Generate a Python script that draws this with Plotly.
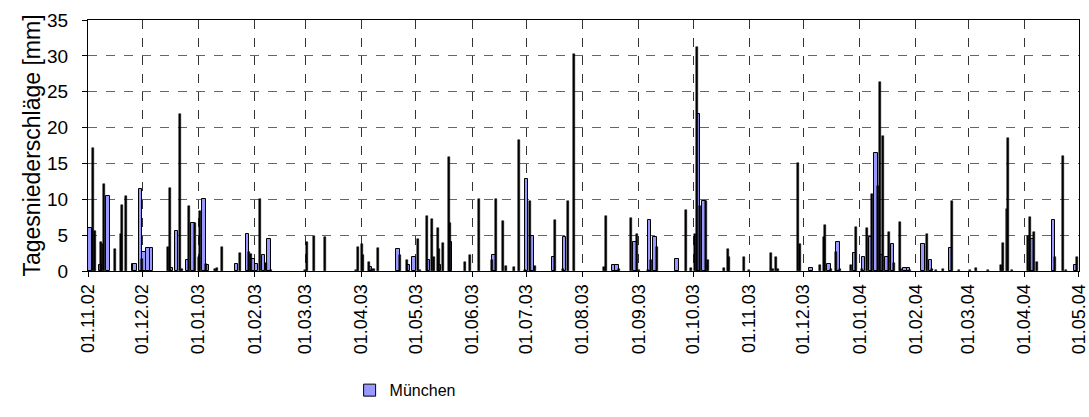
import pandas as pd
import plotly.graph_objects as go

# Daily precipitation [mm]; days counted from 01.11.2002
START = "2002-11-01"

muenchen_day = [1, 7, 11, 25, 26, 29, 31, 33, 35, 46, 49, 55, 58, 64, 66,
                82, 88, 91, 93, 97, 100, 156, 171, 177, 180, 188, 194, 200,
                224, 242, 245, 257, 263, 290, 292, 302, 310, 313, 325, 337,
                340, 399, 409, 414, 423, 428, 432, 435, 438, 441, 444, 451,
                453, 461, 465, 476, 521, 533, 545]
muenchen_mm = [6.0, 0.8, 10.4, 1.0, 1.0, 11.4, 2.6, 3.2, 3.2, 0.4, 5.6, 1.6,
               6.7, 10.1, 0.8, 1.0, 5.2, 1.7, 1.0, 2.3, 4.5, 0.5, 3.0, 0.8,
               1.9, 1.6, 0.8, 4.1, 2.2, 12.8, 4.9, 1.9, 4.8, 0.9, 0.9, 4.1,
               7.1, 4.8, 1.7, 21.9, 9.8, 0.4, 1.0, 4.1, 2.5, 1.9, 4.7, 16.5,
               2.2, 1.9, 3.8, 0.4, 0.4, 3.8, 1.6, 3.2, 4.5, 7.1, 0.8]

other_day = [3, 4, 7, 8, 9, 15, 18, 19, 21, 30, 44, 45, 51, 52, 56, 59, 61,
             62, 65, 70, 71, 74, 84, 89, 90, 95, 98, 101, 120, 121, 125, 131,
             148, 149, 151, 152, 155, 157, 158, 160, 172, 176, 182, 183, 187,
             190, 191, 193, 194, 196, 199, 200, 208, 211, 216, 223, 225, 229,
             231, 235, 238, 241, 244, 247, 258, 262, 265, 268, 285, 286, 293,
             300, 303, 304, 309, 311, 314, 330, 333, 335, 336, 338, 341, 342,
             351, 353, 354, 362, 365, 377, 378, 380, 381, 392, 393, 404, 406,
             407, 410, 413, 415, 421, 424, 427, 430, 433, 436, 437, 439, 442,
             445, 448, 449, 454, 463, 466, 468, 472, 477, 481, 487, 490, 497,
             504, 505, 507, 508, 510, 519, 520, 522, 524, 534, 538, 540, 546]
other_mm = [17.2, 5.6, 4.1, 3.8, 12.1, 3.0, 5.2, 9.2, 10.4, 1.7, 3.4, 11.6,
            21.9, 0.3, 9.0, 6.7, 1.9, 8.4, 1.0, 0.3, 0.4, 3.4, 2.5, 2.6, 2.4,
            10.0, 1.1, 0.2, 0.2, 4.1, 4.9, 4.7, 0.2, 3.4, 3.8, 2.3, 1.2, 0.3,
            0.3, 3.2, 2.3, 1.6, 4.5, 0.2, 7.7, 7.2, 1.9, 6.0, 3.0, 3.9, 15.9,
            6.7, 1.2, 2.2, 10.1, 1.6, 10.1, 7.0, 0.7, 0.5, 18.2, 0.2, 9.8, 0.7,
            7.1, 0.3, 9.7, 30.2, 0.5, 7.7, 0.3, 7.4, 5.2, 0.2, 0.2, 1.6, 3.4,
            8.5, 0.4, 5.1, 31.3, 9.0, 9.8, 1.6, 0.4, 3.0, 1.9, 1.9, 0.2, 2.5,
            0.3, 1.9, 0.3, 15.1, 3.8, 0.8, 4.7, 6.4, 0.3, 2.7, 0.3, 0.9, 6.1,
            0.3, 6.0, 10.8, 11.9, 26.4, 18.8, 5.4, 1.1, 6.8, 0.3, 0.2, 5.2, 0.3,
            0.2, 0.3, 9.7, 0.2, 0.2, 0.4, 0.2, 0.8, 3.9, 8.6, 18.6, 0.2, 4.9,
            7.5, 5.5, 1.2, 1.9, 16.1, 0.2, 1.9]

tick_dates = pd.date_range("2002-11-01", "2004-05-01", freq="MS")
tick_labels = [d.strftime("%d.%m.%y") for d in tick_dates]

DAY_MS = 86400000
FONT = "Liberation Sans, Arial, sans-serif"


def to_dates(days):
    return pd.Timestamp(START) + pd.to_timedelta(days, unit="D")


fig = go.Figure()
fig.add_trace(go.Bar(
    x=to_dates(muenchen_day),
    y=muenchen_mm,
    name="München",
    width=1.9 * DAY_MS,
    marker=dict(color="#9999FF", line=dict(color="black", width=1)),
))
fig.add_trace(go.Bar(
    x=to_dates(other_day),
    y=other_mm,
    name="",
    width=1.1 * DAY_MS,
    marker=dict(color="black", line=dict(color="black", width=0.5)),
    showlegend=False,
))

fig.update_layout(
    width=1089,
    height=417,
    margin=dict(l=88, r=10, t=20, b=143),
    plot_bgcolor="white",
    paper_bgcolor="white",
    barmode="overlay",
    bargap=0,
    font=dict(family=FONT, size=18, color="black"),
    xaxis=dict(
        type="date",
        range=[pd.Timestamp("2002-11-01"), pd.Timestamp("2004-05-01 00:30")],
        tickvals=tick_dates,
        ticktext=tick_labels,
        tickangle=-90,
        ticks="outside",
        ticklen=5,
        tickcolor="black",
        ticklabeloverflow="allow",
        showgrid=True,
        gridcolor="#333333",
        griddash="dash",
        gridwidth=1,
        showline=True,
        linecolor="black",
        linewidth=1,
        mirror=True,
        automargin=False,
        tickfont=dict(size=18),
    ),
    yaxis=dict(
        range=[0, 35],
        dtick=5,
        ticks="outside",
        ticklen=5,
        tickcolor="black",
        ticklabelstandoff=10,
        showgrid=True,
        gridcolor="#666666",
        griddash="dash",
        gridwidth=1,
        showline=True,
        linecolor="black",
        linewidth=1,
        mirror=True,
        zeroline=False,
        automargin=False,
        title=dict(text="Tagesniederschläge [mm]", font=dict(size=23), standoff=0),
        tickfont=dict(size=19),
    ),
    legend=dict(
        orientation="h",
        x=0.264,
        y=-0.475,
        xanchor="left",
        yanchor="middle",
        font=dict(size=16),
    ),
    showlegend=True,
)

# drop the default body margin so the figure sits at the page's top-left corner
fig.write_html(
    "out.html",
    config={"displayModeBar": False},
    post_script="document.body.style.margin = '0';",
)
